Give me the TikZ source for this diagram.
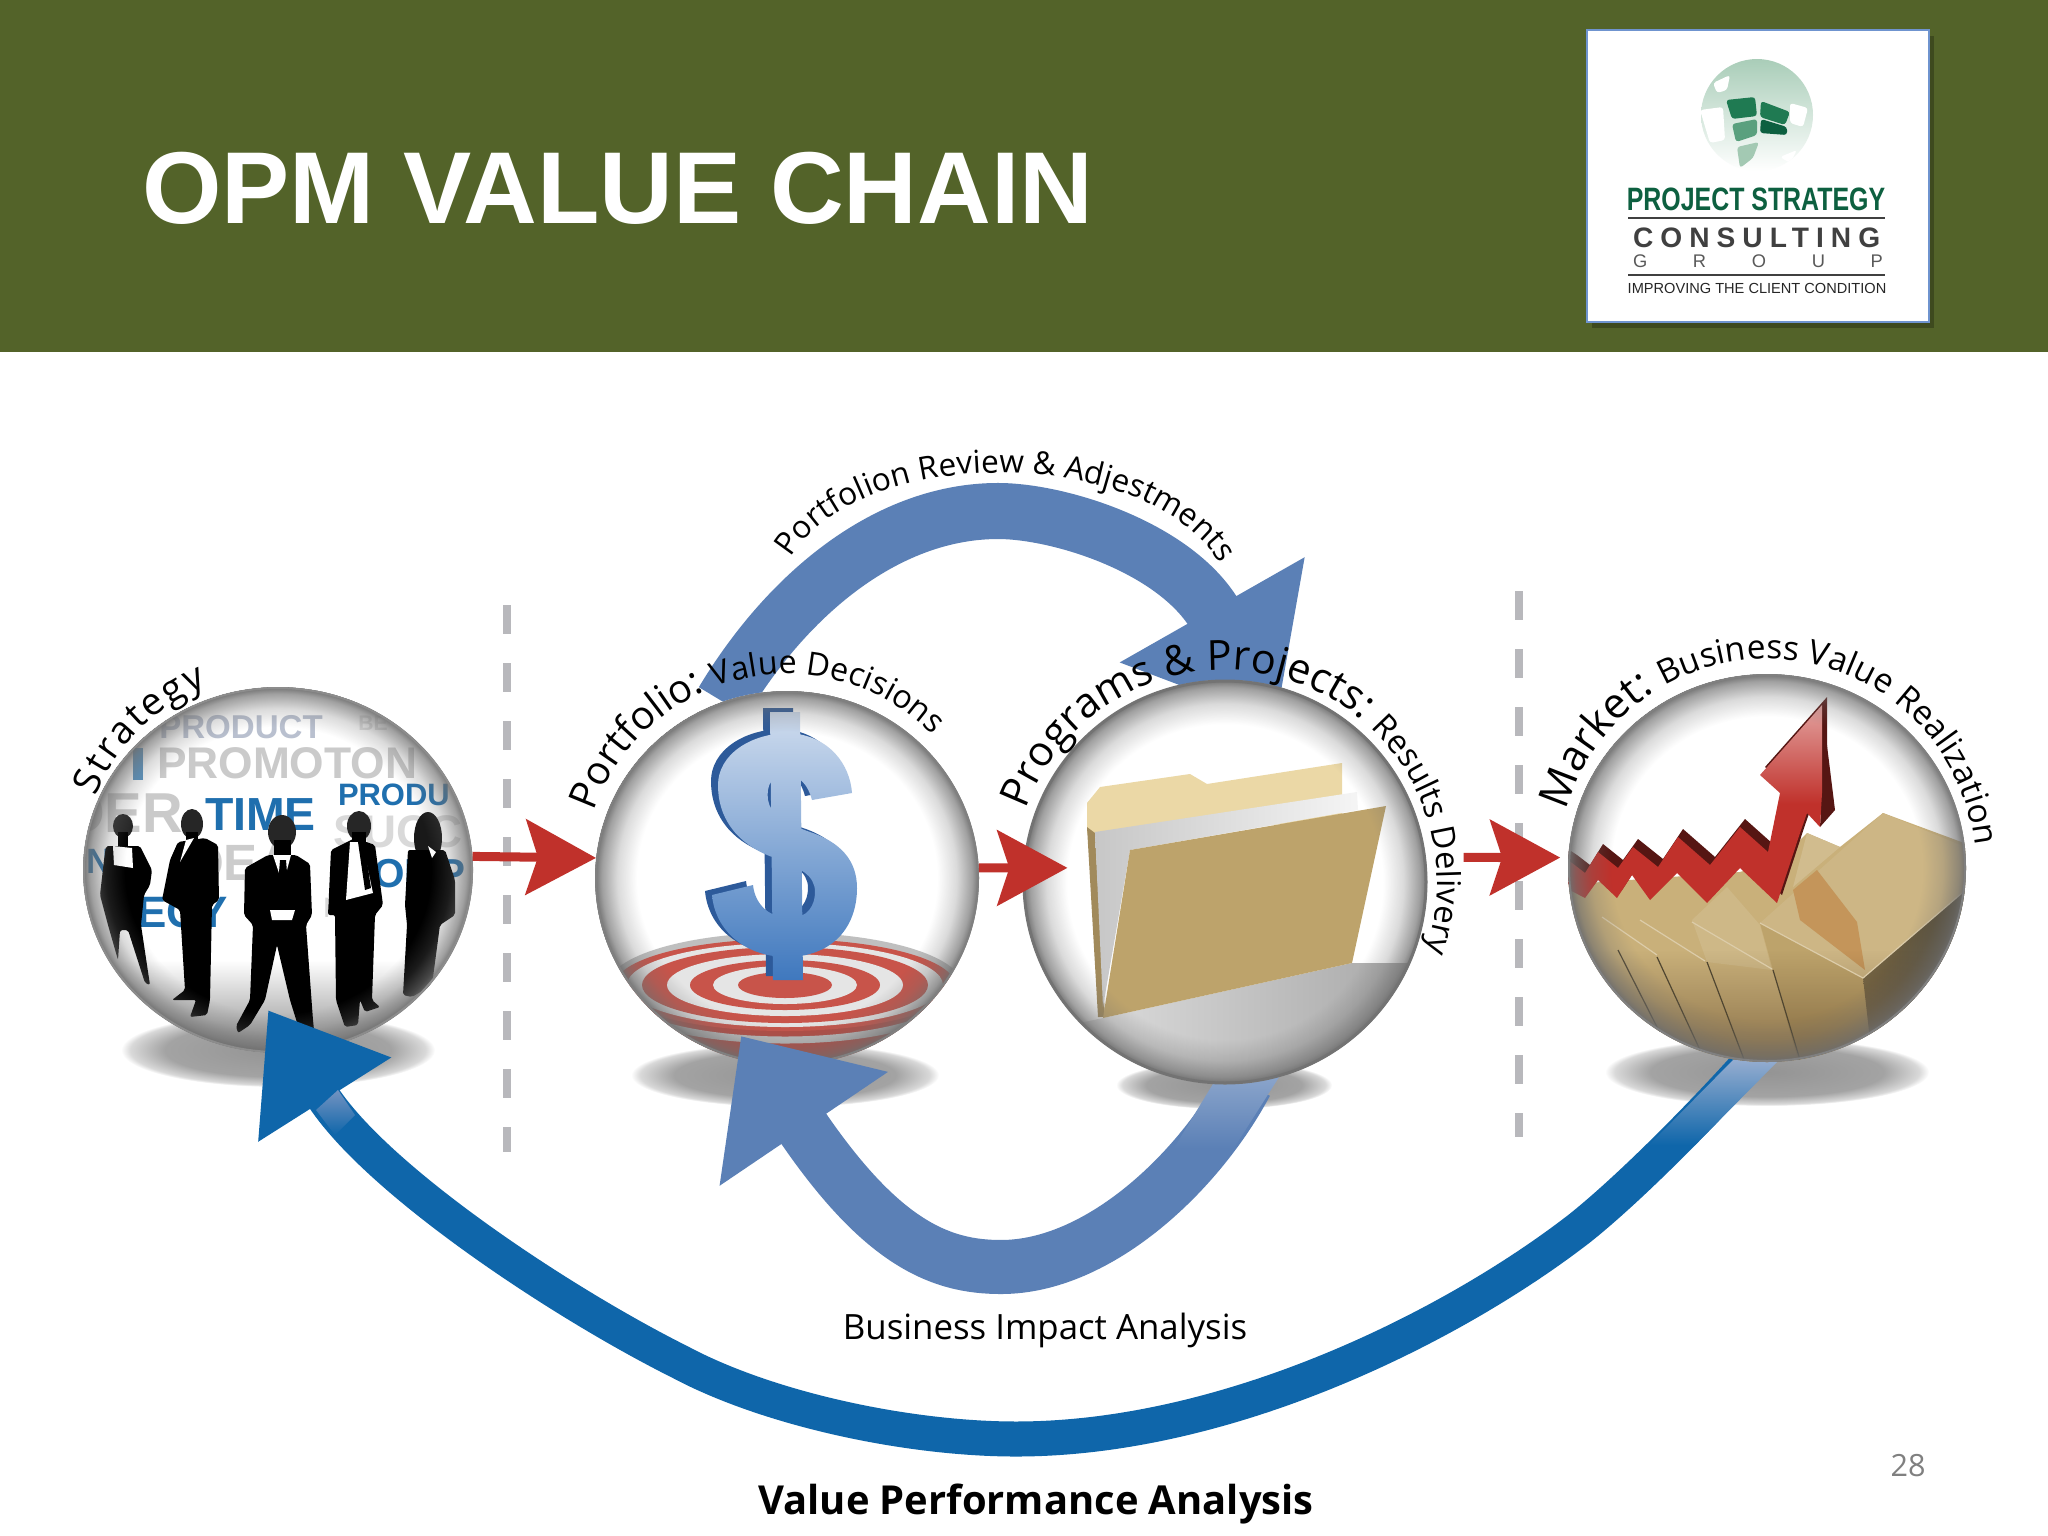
\documentclass[tikz,border=0pt]{standalone}
\usepackage{xcolor}
\usepackage{fontspec}
\usepackage{tikz}
\setmainfont{Open Sans}
\newfontfamily\arialfont{Liberation Sans}
\newfontfamily\logocond[FakeStretch=0.77]{Liberation Sans}
\usetikzlibrary{arrows.meta,shapes.geometric,decorations.text,fadings}
\definecolor{headgreen}{HTML}{536329}
\definecolor{logogreen}{HTML}{0D6040}
\definecolor{logoline}{HTML}{6F94CF}
\definecolor{tileone}{HTML}{1F7A52}
\definecolor{tiletwo}{HTML}{5AA07E}
\definecolor{tilethree}{HTML}{A3C9B3}
\definecolor{globegreen}{HTML}{A9CDB8}
\definecolor{midblue}{HTML}{5B80B6}
\definecolor{deepblue}{HTML}{0F66AA}
\definecolor{arrowred}{HTML}{C0312B}
\definecolor{dashgray}{HTML}{B8B8BC}
\definecolor{rimgray}{HTML}{6E6E6E}
\definecolor{cloudgray}{HTML}{CACACA}
\definecolor{cloudpale}{HTML}{B9C0CF}
\definecolor{cloudblue}{HTML}{1F6FAE}
\definecolor{targetred}{HTML}{C8544A}
\definecolor{foldertan}{HTML}{BDA36B}
\definecolor{flaptan}{HTML}{EBD8A6}
\definecolor{boxtan}{HTML}{C9B07A}
\definecolor{dollartop}{HTML}{CFDCEE}
\definecolor{dollarmid}{HTML}{7FA6D6}
\definecolor{dollarbot}{HTML}{3F78BE}
\definecolor{dollarback}{HTML}{2D5A9A}
\pgfdeclareradialshading{shadowblob}{\pgfpointorigin}{color(0bp)=(black!42); color(18bp)=(black!36); color(23.5bp)=(black!15); color(25bp)=(white)}
\pgfdeclareradialshading{rimshade}{\pgfpointorigin}{color(0bp)=(black); color(19.5bp)=(black); color(22bp)=(black!75); color(24bp)=(black!35); color(25bp)=(white)}
\pgfdeclarefading{rimfade}{\pgfuseshading{rimshade}}
\def\dollarpath{(790,-733) .. controls (830,-736) and (850,-765) .. (852,-793) -- (812,-800) .. controls (808,-785) and (800,-775) .. (785,-775) .. controls (772,-775) and (766,-785) .. (768,-800) .. controls (770,-815) and (790,-825) .. (810,-832) .. controls (840,-842) and (857,-860) .. (857,-888) .. controls (857,-925) and (835,-955) .. (790,-957) .. controls (745,-958) and (715,-930) .. (712,-895) -- (753,-885) .. controls (755,-905) and (770,-918) .. (790,-918) .. controls (808,-918) and (815,-905) .. (815,-892) .. controls (815,-875) and (800,-868) .. (775,-858) .. controls (745,-848) and (718,-825) .. (718,-785) .. controls (718,-755) and (750,-733) .. (790,-733) -- cycle (770,-712) -- (800,-712) -- (803,-980) -- (773,-980) -- cycle}
\def\zigzagpath{(1572,-863) -- (1585,-873) -- (1598,-852) -- (1618,-868) -- (1633,-847) -- (1658,-867) -- (1678,-837) -- (1710,-865) -- (1740,-827) -- (1768,-852) -- (1780,-793) -- (1760,-775) -- (1822,-705) -- (1822,-793) -- (1820,-827) -- (1807,-813) -- (1800,-833) -- (1777,-903) -- (1740,-868) -- (1707,-903) -- (1677,-873) -- (1650,-900) -- (1632,-875) -- (1617,-898) -- (1598,-880) -- (1585,-898) -- (1560,-885) -- (1560,-855) -- cycle}
\begin{document}
\begin{tikzpicture}[x=0.01cm, y=0.01cm]
	\tikzstyle{every node}+=[inner sep=0pt, outer sep=0pt]
	\tikzstyle{sphere}=[ellipse]
	\tikzstyle{redarrow}=[arrowred, line width=0.09cm, -{Stealth[length=0.7cm,width=0.75cm,inset=0.12cm]}]
	\tikzstyle{arcblue}=[midblue, line width=0.56cm]
	\tikzstyle{arcdeep}=[deepblue, line width=0.35cm]
	\tikzstyle{dashline}=[dashgray, line width=0.075cm, dash pattern=on 0.29cm off 0.29cm]
	\useasboundingbox (0,0) rectangle (2048,-1536);
	\fill [white] (0,0) rectangle (2048,-1536);
	\fill [headgreen] (0,0) rectangle (2048,-352);
	\draw (142,-223) node [anchor=base west, text=white] (title) {\arialfont\bfseries\fontsize{29.05}{30}\selectfont OPM VALUE CHAIN};
	\fill [black, opacity=0.25] (1592,-36) rectangle (1934,-328);
	\draw [logoline, line width=0.02cm, fill=white] (1587,-30) rectangle (1929,-322);
	\begin{scope}
		\clip (1757,-115) circle (56);
		\shade [top color=globegreen, middle color=globegreen!80!white, bottom color=white] (1757,-115) circle (56);
		\fill [white, rounded corners=0.03cm] (1713,-83) -- (1730,-75) -- (1727,-90) -- (1717,-93) -- cycle;
		\fill [white, rounded corners=0.03cm] (1700,-110) -- (1723,-107) -- (1725,-140) -- (1710,-143) -- cycle;
		\fill [white, rounded corners=0.03cm] (1790,-103) -- (1808,-108) -- (1803,-127) -- (1790,-123) -- cycle;
		\fill [white, rounded corners=0.03cm] (1780,-157) -- (1797,-150) -- (1790,-163) -- cycle;
	\end{scope}
	\fill [tileone, rounded corners=0.03cm] (1726,-100) -- (1755,-97) -- (1757,-116) -- (1732,-119) -- cycle;
	\fill [tileone, rounded corners=0.03cm] (1761,-101) -- (1790,-112) -- (1785,-125) -- (1760,-117) -- cycle;
	\fill [tiletwo, rounded corners=0.03cm] (1732,-124) -- (1757,-119) -- (1757,-135) -- (1736,-142) -- cycle;
	\fill [logogreen, rounded corners=0.03cm] (1761,-119) -- (1787,-127) -- (1787,-135) -- (1760,-133) -- cycle;
	\fill [tilethree, rounded corners=0.03cm] (1737,-147) -- (1759,-142) -- (1753,-158) -- (1740,-168) -- cycle;
	\draw (1756,-210) node [anchor=base, text=logogreen] (logoproject) {\logocond\bfseries\fontsize{9.2}{10}\selectfont PROJECT STRATEGY};
	\draw [black!75, line width=0.012cm] (1628,-218) -- (1885,-218);
	\draw (1633,-247) node [anchor=base west, text=black!75] (logoconsult) {\arialfont\bfseries\fontsize{8}{9}\selectfont\addfontfeature{LetterSpace=25}CONSULTING};
	\draw (1633,-267) node [anchor=base west, text=black!65] (logogroup) {\arialfont\fontsize{5.2}{6}\selectfont\addfontfeature{LetterSpace=250}GROUP};
	\draw [black!75, line width=0.012cm] (1628,-275) -- (1885,-275);
	\draw (1757,-293) node [anchor=base, text=black!85] (logotag) {\arialfont\fontsize{4.15}{5}\selectfont IMPROVING THE CLIENT CONDITION};
	\node [sphere, minimum width=3.9cm, minimum height=3.66cm] (strategy) at (278,-870) {};
	\node [sphere, minimum width=3.84cm, minimum height=3.74cm] (portfolio) at (787,-878) {};
	\node [sphere, minimum width=4.04cm, minimum height=4.04cm] (programs) at (1225,-882) {};
	\node [sphere, minimum width=3.98cm, minimum height=3.88cm] (market) at (1767,-868) {};
	\coordinate (upperend) at (1276,-722);
	\coordinate (lowerend) at (741,-1036);
	\coordinate (deepend) at (268,-1010);
	\shade [shading=shadowblob] (278,-1050) ellipse (157 and 37);
	\shade [shading=shadowblob] (785,-1075) ellipse (154 and 32);
	\shade [shading=shadowblob] (1224,-1085) ellipse (108 and 24);
	\shade [shading=shadowblob] (1767,-1072) ellipse (162 and 34);
	\draw [dashline] (507,-605) -- (507,-1152);
	\draw [dashline] (1519,-591) -- (1519,-1137);
	\draw [arcblue, -{Triangle[length=1.29cm,width=2.04cm]}] (portfolio.110) .. controls (790,-590) and (890,-511) .. (998,-511) .. controls (1060,-511) and (1177,-548) .. (upperend);
	\fill [white] (strategy) ellipse (195 and 183);
	\begin{scope}
		\clip (strategy) ellipse (195 and 183);
		\shade [top color=white, bottom color=black!50] (80,-960) rectangle (480,-1060);
		\draw (241,-738) node [anchor=base, text=cloudpale] (wordproduct) {\arialfont\bfseries\fontsize{9.4}{10}\selectfont PRODUCT};
		\draw (373,-730) node [anchor=base, text=black!12] (wordbe) {\arialfont\bfseries\fontsize{6}{7}\selectfont BE};
		\draw (157,-778) node [anchor=base west, text=cloudgray] (wordpromo) {\arialfont\bfseries\fontsize{12.6}{14}\selectfont PROMOTON};
		\fill [cloudblue!75] (133,-748) rectangle (143,-780);
		\draw (183,-832) node [anchor=base east, text=cloudgray] (wordder) {\arialfont\bfseries\fontsize{16}{18}\selectfont DER};
		\draw (205,-830) node [anchor=base west, text=cloudblue] (wordtime) {\arialfont\bfseries\fontsize{13.2}{14}\selectfont TIME};
		\draw (338,-805) node [anchor=base west, text=cloudblue] (wordprodu) {\arialfont\bfseries\fontsize{8.8}{10}\selectfont PRODU};
		\draw (333,-847) node [anchor=base west, text=black!15] (wordsuc) {\arialfont\bfseries\fontsize{13}{14}\selectfont SUCC};
		\draw (173,-880) node [anchor=base west, text=black!20] (wordidea) {\arialfont\bfseries\fontsize{14.5}{16}\selectfont IDEA};
		\draw (87,-873) node [anchor=base west, text=cloudblue] (wordne) {\arialfont\bfseries\fontsize{10}{12}\selectfont NE};
		\draw (373,-887) node [anchor=base west, text=cloudblue] (wordomp) {\arialfont\bfseries\fontsize{11.5}{13}\selectfont OMP};
		\draw (137,-927) node [anchor=base west, text=cloudblue] (wordecy) {\arialfont\bfseries\fontsize{12.5}{14}\selectfont ECY};
		\draw (323,-917) node [anchor=base west, text=black!15] (wordkop) {\arialfont\fontsize{8}{9}\selectfont KOP};
		\fill [black!85] (123,-826) ellipse (10 and 12);
		\fill [black] (118,-832) rectangle (128,-850);
		\fill [black, rounded corners=0.02cm] (106,-846) -- (140,-846) -- (152,-870) -- (150,-885) -- (144,-895) -- (141,-925) -- (150,-985) -- (145,-983) -- (128,-930) -- (120,-930) -- (118,-960) -- (108,-925) -- (100,-895) -- (104,-860) -- cycle;
		\fill [white] (113,-846) -- (132,-848) -- (133,-868) -- (114,-865) -- cycle;
		\fill [black!85] (192,-824) ellipse (11 and 15);
		\fill [black] (186,-832) rectangle (198,-845);
		\fill [black, rounded corners=0.02cm] (178,-842) -- (205,-838) -- (218,-845) -- (219,-900) -- (212,-905) -- (210,-1000) -- (207,-1015) -- (190,-1017) -- (196,-1000) -- (172,-1000) -- (185,-990) -- (180,-910) -- (162,-900) -- (170,-860) -- cycle;
		\fill [white] (186,-840) -- (194,-838) -- (180,-862) -- cycle;
		\fill [black!85] (282,-832) ellipse (14 and 17);
		\fill [black] (274,-840) rectangle (291,-858);
		\fill [black, rounded corners=0.02cm] (268,-855) -- (296,-855) -- (310,-864) -- (312,-915) -- (306,-925) -- (313,-1020) -- (314,-1030) -- (300,-1032) -- (290,-1000) -- (277,-945) -- (265,-1000) -- (250,-1025) -- (238,-1033) -- (236,-1026) -- (250,-1000) -- (253,-925) -- (244,-915) -- (245,-868) -- cycle;
		\fill [white] (273,-855) -- (291,-855) -- (283,-885) -- cycle;
		\fill [black] (280,-860) -- (286,-860) -- (288,-885) -- (283,-895) -- (278,-885) -- cycle;
		\fill [white] (270,-910) -- (295,-910) -- (292,-920) -- (272,-920) -- cycle;
		\fill [black!85] (359,-826) ellipse (12 and 15);
		\fill [black] (352,-832) rectangle (366,-845);
		\fill [black, rounded corners=0.02cm] (331,-850) -- (355,-838) -- (375,-845) -- (383,-905) -- (375,-915) -- (372,-1000) -- (380,-1007) -- (365,-1012) -- (360,-1000) -- (358,-1025) -- (345,-1027) -- (336,-1000) -- (335,-915) -- (328,-915) -- cycle;
		\fill [white] (350,-842) -- (362,-842) -- (373,-893) -- (346,-900) -- cycle;
		\fill [black] (358,-842) -- (364,-842) -- (371,-888) -- (365,-890) -- cycle;
		\fill [black!90] (428,-838) ellipse (14 and 26);
		\fill [black, rounded corners=0.02cm] (408,-850) -- (445,-850) -- (455,-880) -- (455,-915) -- (440,-925) -- (432,-985) -- (412,-997) -- (403,-995) -- (407,-925) -- (405,-905) -- cycle;
		\fill [white] (428,-846) -- (436,-852) -- (432,-858) -- cycle;
	\end{scope}
	\fill [rimgray, path fading=rimfade] (strategy) ellipse (195 and 183);
	\draw [black!45, line width=0.02cm] (strategy) ellipse (194 and 182);
	\fill [white] (portfolio) ellipse (192 and 187);
	\begin{scope}
		\clip (portfolio) ellipse (192 and 187);
		\fill [targetred!90!black] (590,-985) rectangle (980,-1070);
		\draw [black!25, line width=0.07cm] (785,-988) ellipse (175 and 52);
		\foreach \rx/\ry/\ringcol in {170/46/targetred, 158/42/black!10, 143/38/targetred, 118/31/black!10, 95/25/targetred, 72/19/black!10, 47/13/targetred} {
			\fill [\ringcol] (785,-985) ellipse [x radius=\rx, y radius=\ry];
		}
	\end{scope}
	\fill [dollarback, shift={(-7,4)}] \dollarpath;
	\shade [top color=dollartop, middle color=dollarmid, bottom color=dollarbot] \dollarpath;
	\fill [rimgray, path fading=rimfade] (portfolio) ellipse (192 and 187);
	\draw [black!50, line width=0.02cm] (portfolio) ellipse (191 and 186);
	\draw [arcblue, line width=0.54cm, -{Triangle[length=1.12cm,width=1.96cm]}] (programs.-84) .. controls (1200,-1170) and (1100,-1267) .. (1001,-1267) .. controls (940,-1267) and (881,-1243) .. (lowerend);
	\shade [top color=midblue!70!white, bottom color=midblue] (1281,-1074) -- (1219,-1074) -- (1174,-1148) -- (1234,-1148) -- cycle;
	\draw [arcdeep, -{Triangle[length=1.06cm,width=1.5cm]}] (market.-95) .. controls (1700,-1117) and (1630,-1188) .. (1580,-1228) .. controls (1455,-1325) and (1230,-1439) .. (1016,-1439) .. controls (910,-1439) and (770,-1410) .. (680,-1362) .. controls (560,-1302) and (375,-1179) .. (deepend);
	\shade [top color=midblue!65!white, bottom color=deepblue] (1779,-1060) -- (1733,-1060) -- (1649,-1145) -- (1695,-1145) -- cycle;
	\shade [top color=midblue!85!white, bottom color=deepblue] (338,-1090) -- (316,-1110) -- (335,-1135) -- (355,-1115) -- cycle;
	\fill [white] (programs) ellipse (202 and 202);
	\begin{scope}
		\clip (programs) ellipse (202 and 202);
		\shade [left color=black!8, right color=black!36] (1000,-1040) -- (1103,-1018) -- (1352,-963) -- (1440,-963) -- (1440,-1100) -- (1000,-1100) -- cycle;
		\fill [flaptan] (1087,-803) -- (1100,-787) -- (1190,-774) -- (1207,-784) -- (1342,-763) -- (1342,-820) -- (1095,-837) -- (1087,-833) -- cycle;
		\fill [foldertan!85!black] (1087,-827) -- (1095,-833) -- (1105,-1017) -- (1098,-1017) -- cycle;
		\shade [left color=black!22, right color=black!4] (1095,-832) -- (1357,-792) -- (1358,-810) -- (1130,-850) -- (1103,-1007) -- cycle;
		\fill [foldertan] (1130,-850) -- (1386,-806) -- (1352,-963) -- (1103,-1018) -- cycle;
	\end{scope}
	\fill [rimgray, path fading=rimfade] (programs) ellipse (202 and 202);
	\draw [black!55, line width=0.03cm] (programs) ellipse (201 and 201);
	\fill [white] (market) ellipse (199 and 194);
	\begin{scope}
		\clip (market) ellipse (199 and 194);
		\fill [boxtan] (1560,-885) -- (1740,-872) -- (1780,-860) -- (1807,-833) -- (1840,-847) -- (1883,-813) -- (1975,-847) -- (1975,-1070) -- (1560,-1070) -- cycle;
		\fill [boxtan!85!white] (1807,-833) -- (1840,-847) -- (1793,-887) -- cycle;
		\fill [boxtan!92!white] (1760,-923) -- (1883,-813) -- (1965,-847) -- (1962,-893) -- (1863,-978) -- cycle;
		\fill [foldertan] (1760,-923) -- (1863,-978) -- (1870,-1030) -- (1800,-1067) -- (1773,-970) -- cycle;
		\shade [left color=boxtan!60!black, right color=boxtan!35!black] (1863,-978) -- (1962,-893) -- (1975,-885) -- (1975,-1010) -- (1870,-1040) -- cycle;
		\fill [brown!55!boxtan] (1793,-890) -- (1817,-870) -- (1857,-922) -- (1865,-970) -- (1800,-920) -- cycle;
		\fill [boxtan!90!white] (1692,-920) -- (1727,-887) -- (1760,-925) -- (1772,-970) -- (1707,-962) -- cycle;
		\fill [brown!40!black, opacity=0.55, path fading=north] (1560,-950) rectangle (1975,-1070);
		\draw [black!60!boxtan, line width=0.012cm] (1707,-962) -- (1745,-1062);
		\draw [black!60!boxtan, line width=0.012cm] (1773,-970) -- (1800,-1060);
		\draw [black!60!boxtan, line width=0.012cm] (1657,-957) -- (1700,-1050);
		\draw [black!60!boxtan, line width=0.012cm] (1618,-950) -- (1660,-1033);
		\draw [white!35!boxtan, line width=0.012cm] (1692,-922) -- (1772,-969);
		\draw [white!35!boxtan, line width=0.012cm] (1640,-920) -- (1705,-961);
		\draw [white!35!boxtan, line width=0.012cm] (1602,-917) -- (1657,-955);
		\draw [white!35!boxtan, line width=0.012cm] (1760,-923) -- (1863,-978) -- (1962,-893);
		\fill [arrowred!45!black, shift={(5,8)}] \zigzagpath;
		\fill [arrowred!45!black] (1822,-705) -- (1835,-810) -- (1820,-827) -- (1822,-793) -- cycle;
		\shade [top color=arrowred!45!white, bottom color=arrowred, middle color=arrowred] \zigzagpath;
	\end{scope}
	\fill [rimgray, path fading=rimfade] (market) ellipse (199 and 194);
	\draw [black!50, line width=0.02cm] (market) ellipse (198 and 193);
	\draw [redarrow] (strategy.4) -- (portfolio.174);
	\draw [redarrow, shorten >=-0.44cm] (portfolio.3) -- (programs.176);
	\draw [redarrow, shorten <=0.38cm, shorten >=0.08cm] (programs.7) -- (market.177);
	\path [decorate, decoration={text along path, text format delimiters={|}{|}, text align=fit to path, text={|\fontsize{10.8}{12}\selectfont|Strategy}}] (strategy) ++(158:197) arc[start angle=158, end angle=111, radius=197];
	\path [decorate, decoration={text along path, text format delimiters={|}{|}, text align=fit to path, text={|\fontsize{11.2}{12}\selectfont|Portfolio: |\fontsize{9.2}{12}\selectfont|Value Decisions}}] (portfolio) ++(161:204) arc[start angle=161, end angle=46, radius=204];
	\path [decorate, decoration={text along path, text format delimiters={|}{|}, text align=fit to path, text={|\fontsize{11.8}{12}\selectfont|Programs {\&} Projects: |\fontsize{9.3}{12}\selectfont|Results Delivery}}] (programs) ++(160:212) arc[start angle=160, end angle=-19, radius=212];
	\path [decorate, decoration={text along path, text format delimiters={|}{|}, text align=fit to path, text={|\fontsize{12}{12}\selectfont|Market: |\fontsize{9.5}{12}\selectfont|Business Value Realization}}] (market) ++(164:209) arc[start angle=164, end angle=6, radius=209];
	\path [decorate, decoration={text along path, text format delimiters={|}{|}, text align=fit to path, text={|\fontsize{9}{12}\selectfont|Portfolion Review {\&} Adjestments}}] (791,-558) .. controls (860,-444) and (1140,-444) .. (1218,-560);
	\draw (1045,-1330) node (impactlabel) {\fontsize{9.9}{12}\selectfont Business Impact Analysis};
	\draw (1036,-1504) node (valuelabel) {\bfseries\fontsize{11.35}{13}\selectfont Value Performance Analysis};
	\draw (1908,-1466) node [text=black!50] (pagenum) {\fontsize{8.7}{10}\selectfont 28};
\end{tikzpicture}
\end{document}
